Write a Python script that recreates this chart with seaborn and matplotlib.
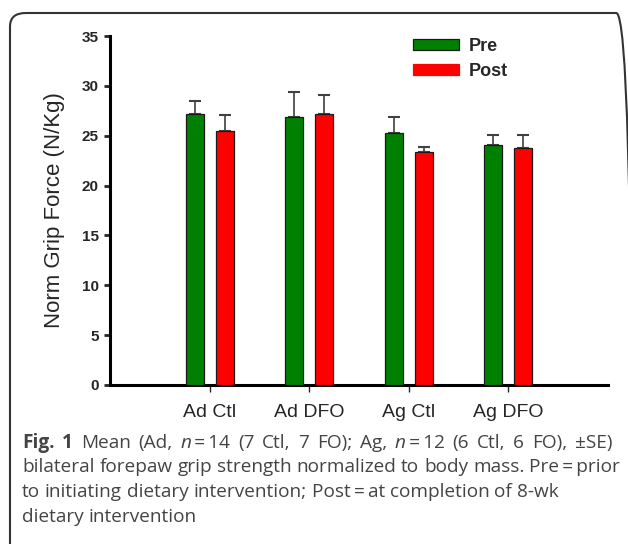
import numpy as np
import pandas as pd
import seaborn as sns
import matplotlib.pyplot as plt
from matplotlib.patches import FancyBboxPatch

sns.set_style('white')
plt.rcParams['font.family'] = ['Liberation Sans', 'DejaVu Sans']

groups = ['Ad Ctl', 'Ad DFO', 'Ag Ctl', 'Ag DFO']
pre = [27.15, 26.9, 25.25, 24.1]
post = [25.45, 27.15, 23.35, 23.75]
pre_se = [1.33, 2.45, 1.63, 1.0]
post_se = [1.63, 1.9, 0.55, 1.33]
yticks = [0, 5, 10, 15, 20, 25, 30, 35]

df = pd.DataFrame({'group': groups * 2,
                   'time': ['Pre'] * 4 + ['Post'] * 4,
                   'force': pre + post,
                   'se': pre_se + post_se})

fig = plt.figure(figsize=(6.28, 5.44), dpi=100)
ax = fig.add_axes([110 / 628, 1 - 385 / 544, 498 / 628, 349 / 544])

sns.barplot(data=df, x='group', y='force', hue='time', order=groups, hue_order=['Pre', 'Post'],
            palette={'Pre': '#008000', 'Post': '#ff0000'}, saturation=1, width=0.6, gap=0.4,
            errorbar=None, edgecolor='#1a1a1a', linewidth=0.9, ax=ax, zorder=3)

# error bars (upward only), placed on the bars seaborn drew
for cont, t in zip(ax.containers, ['Pre', 'Post']):
    sub = df[df.time == t]
    xs = [p.get_x() + p.get_width() / 2 for p in cont.patches]
    ax.errorbar(xs, sub.force, yerr=[np.zeros(len(sub)), sub.se], fmt='none',
                ecolor='#404040', elinewidth=1.2, capsize=4, capthick=1.5, zorder=2)

ax.set_xlim(-1, 4)
ax.set_ylim(0, 35)
ax.set_yticks(yticks)
ax.set_yticklabels([str(v) for v in yticks], fontweight='bold', fontsize=11)
ax.tick_params(axis='x', labelsize=14, length=5, width=1, direction='out', pad=9, bottom=True)
ax.tick_params(axis='y', length=4, width=2, direction='out', left=True, pad=4)
ax.set_xlabel('')
ax.set_ylabel('Norm Grip Force (N/Kg)', fontsize=16, labelpad=12)
sns.despine(ax=ax)
for s in ['left', 'bottom']:
    ax.spines[s].set_linewidth(2.2)
    ax.spines[s].set_color('black')

leg = ax.legend(loc='upper left', bbox_to_anchor=(413 / 628, 1 - 38 / 544), bbox_transform=fig.transFigure,
                frameon=False, handlelength=2.55, handleheight=0.6, handletextpad=0.55, labelspacing=0.45,
                borderpad=0, borderaxespad=0, prop={'weight': 'bold', 'size': 13})
leg.legend_handles[1].set_edgecolor('#ff0000')

# rounded frame around the figure (runs off right and bottom edges)
frame = FancyBboxPatch((10 / 628, -0.05), 622 / 628, 1 - 13 / 544 + 0.05,
                       boxstyle='round,pad=0,rounding_size=0.025', transform=fig.transFigure,
                       facecolor='none', edgecolor='#333333', linewidth=1.5, clip_on=False)
fig.patches.append(frame)

# caption: words placed one by one so bold / italic runs can mix
cap_font = ['Open Sans', 'DejaVu Sans']
cap_color = '#444444'
cap_size = 13.7
renderer = fig.canvas.get_renderer()


def word_width(txt, **kw):
    t = fig.text(0, 0, txt, fontsize=cap_size, family=cap_font, **kw)
    w = t.get_window_extent(renderer).width
    t.remove()
    return w


space = word_width('a a') - word_width('aa')


def put_line(y, runs, end=None):
    # runs: list of (text, style kwargs); '|' joins pieces with no space
    words = []
    for txt, kw in runs:
        for i, w in enumerate(txt.split(' ')):
            if w:
                words.append([w, kw, i > 0 or txt.startswith(' ')])
    widths = [word_width(w, **kw) for w, kw, _ in words]
    n_gaps = sum(1 for w in words[1:] if w[2])
    gap = space
    if end is not None and n_gaps:
        gap = (end - 22 - sum(widths)) / n_gaps
    x = 22
    for (w, kw, sp), wd in zip(words, widths):
        if sp and x > 22:
            x += gap
        fig.text(x / 628, 1 - y / 544, w, fontsize=cap_size, family=cap_font,
                 color=cap_color, va='baseline', **kw)
        x += wd


lines = [
    [('Fig. 1', {'fontweight': 'bold'}), (' Mean (Ad,', {}), (' n', {'style': 'italic'}),
     ('\u2009=\u200914 (7 Ctl, 7 FO); Ag,', {}), (' n', {'style': 'italic'}),
     ('\u2009=\u200912 (6 Ctl, 6 FO), \u00b1SE)', {})],
    [('bilateral forepaw grip strength normalized to body mass. Pre\u2009=\u2009prior', {})],
    [('to initiating dietary intervention; Post\u2009=\u2009at completion of 8-wk', {})],
    [('dietary intervention', {})],
]
ends = [612, None, None, None]
for i, ln in enumerate(lines):
    put_line(448 + 24.5 * i, ln, ends[i])

plt.savefig('out.png', dpi=100)
